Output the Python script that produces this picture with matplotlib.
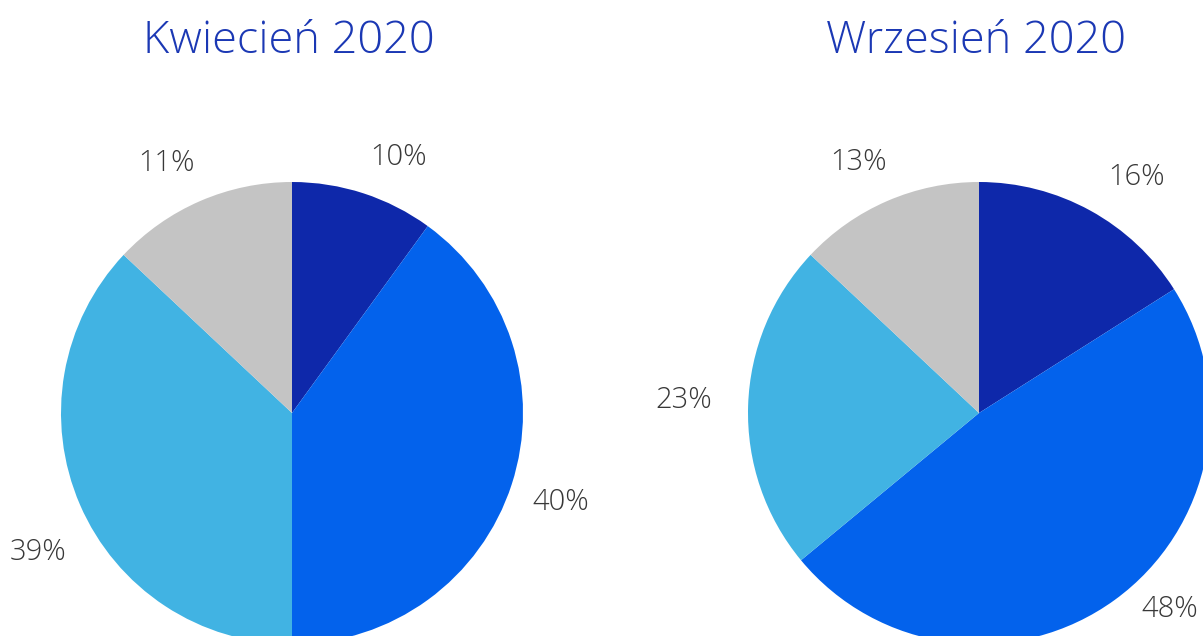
import matplotlib
matplotlib.use("Agg")
import matplotlib.pyplot as plt
from matplotlib import font_manager
import numpy as np

# data
titles = ["Kwiecień 2020", "Wrzesień 2020"]
april_shares = [10, 40, 37, 13]          # wedge sizes as drawn
april_labels = ["10%", "40%", "39%", "11%"]  # labels as printed
sept_shares = [16, 48, 23, 13]
sept_labels = ["16%", "48%", "23%", "13%"]

colors = ["#0e28aa", "#0362ec", "#41b3e3", "#c4c4c4"]
title_color = "#1b38b4"
label_color = "#383838"

W, H = 1203, 636


def pick_font():
    for fam in ["Open Sans", "Lato", "Noto Sans", "Roboto"]:
        try:
            f = font_manager.findfont(font_manager.FontProperties(family=fam, weight="light"),
                                      fallback_to_default=False)
        except Exception:
            continue
        if "light" in f.lower().split("/")[-1]:
            return fam, "light"
    return "Open Sans", "normal"


family, weight = pick_font()
plt.rcParams["font.family"] = [family, "DejaVu Sans"]

fig = plt.figure(figsize=(W / 100, H / 100), dpi=100)
ax = fig.add_axes([0, 0, 1, 1])

R = 231
# pie centre, per-label angle nudge (deg) and label distance (in radii)
pies = [
    (april_shares, april_labels, (292, H - 413),
     [-4.4, 0.0, 5.0, 3.0], [1.21, 1.225, 1.25, 1.22]),
    (sept_shares, sept_labels, (979, H - 413),
     [-4.6, 8.5, -1.2, 2.1], [1.235, 1.18, 1.28, 1.215]),
]

for title, (shares, labels, center, nudge, dist) in zip(titles, pies):
    wedges, _ = ax.pie(shares, colors=colors, startangle=90, counterclock=False,
                       radius=R, center=center, frame=True,
                       wedgeprops=dict(linewidth=0))
    for w, lab, dn, d in zip(wedges, labels, nudge, dist):
        mid = np.deg2rad((w.theta1 + w.theta2) / 2 + dn)
        x = center[0] + d * R * np.cos(mid)
        y = center[1] + d * R * np.sin(mid)
        ax.text(x, y - 10, lab, ha="center", va="baseline", fontsize=21,
                color=label_color, fontweight=weight)
    ax.text(center[0] - 3, H - 53, title, ha="center", va="baseline",
            fontsize=32.5, color=title_color, fontweight=weight)

ax.set_xlim(0, W)
ax.set_ylim(0, H)
ax.set_aspect("equal")
ax.axis("off")

fig.savefig("out.png", dpi=100)
